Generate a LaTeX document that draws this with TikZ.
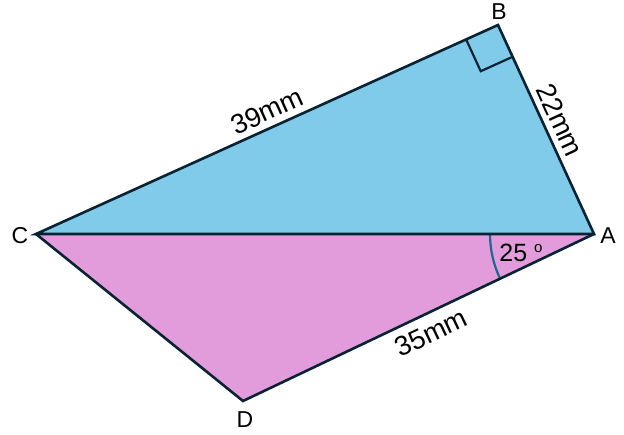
\documentclass[tikz,border=0pt]{standalone}
\usepackage{fontspec}
\setmainfont{Liberation Sans}
\usetikzlibrary{calc}
\definecolor{bluefill}{RGB}{128,202,234}
\definecolor{pinkfill}{RGB}{226,156,220}
\definecolor{edge}{RGB}{10,35,50}
\definecolor{arccol}{RGB}{30,105,140}
\tikzset{
  lbl/.style={font=\fontsize{23}{27}\selectfont, inner sep=0pt},
  len/.style={font=\fontsize{27.5}{31}\selectfont, inner sep=0pt},
  side/.style={draw=edge, line width=2.6pt, line join=miter},
}
\begin{document}
\begin{tikzpicture}[x=1pt,y=-1pt]
\useasboundingbox (0,0) rectangle (624,435);
\coordinate (A) at (594,234);
\coordinate (B) at (498,25);
\coordinate (C) at (36,234);
\coordinate (D) at (243,401);
\fill[pinkfill] (C) -- (A) -- (D) -- cycle;
\fill[bluefill] (C) -- (B) -- (A) -- cycle;
% right angle mark
\coordinate (R1) at ($(B)!35pt!(C)$);
\coordinate (R3) at ($(B)!35pt!(A)$);
\draw[edge, line width=2.2pt] (R1) -- ($(R1)+(R3)-(B)$) -- (R3);
% angle arc
\draw[arccol, line width=2.2pt] ($(A)+(-104,0)$) arc[start angle=180, end angle=154.6, radius=104];
\draw[side] (C) -- (B) -- (A) -- cycle;
\draw[side] (C) -- (D) -- (A);
\node[lbl] (lB) at (499,12) {B};
\node[lbl] (lA) at (608,236) {A};
\node[lbl] (lC) at (20,236) {C};
\node[lbl] (lD) at (245,420) {D};
\node[len, rotate=24.3] (l39) at (267,111) {39mm};
\node[len, rotate=-65.3] (l22) at (560,120) {22mm};
\node[len, rotate=25.4] (l35) at (431,333) {35mm};
\node[font=\fontsize{25}{29}\selectfont, inner sep=0pt] (l25) at (521,253) {25 \raisebox{0.35em}{\fontsize{15}{15}\selectfont o}};
\end{tikzpicture}
\end{document}
